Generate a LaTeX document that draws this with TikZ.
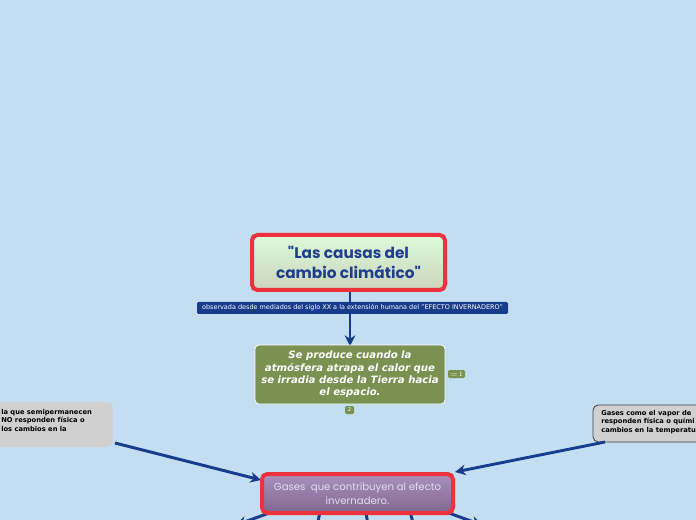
\documentclass[tikz,border=0pt]{standalone}
\usepackage{fontspec}
\setmainfont{DejaVu Sans}
\newfontfamily\sketchfont{Poppins}
\usetikzlibrary{arrows.meta,positioning,calc}
\definecolor{bgblue}{RGB}{195,222,240}
\definecolor{linkblue}{RGB}{24,60,140}
\definecolor{boxred}{RGB}{236,50,60}
\definecolor{titleblue}{RGB}{32,62,140}
\definecolor{olivebox}{RGB}{122,145,82}
\definecolor{notegrey}{RGB}{208,208,208}
\definecolor{purpletop}{RGB}{170,145,190}
\definecolor{purplebot}{RGB}{128,104,145}
\definecolor{purpletext}{RGB}{226,222,244}

\begin{document}
\begin{tikzpicture}[
    x=0.75pt, y=-0.75pt,
    mainbox/.style={rectangle, draw=boxred, line width=3pt, rounded corners=4pt, align=center, inner sep=0pt},
    topic/.style={rectangle, draw=white, line width=0.6pt, rounded corners=3pt, fill=olivebox, align=center,
        text=white, font=\bfseries\itshape\fontsize{7.6}{9.2}\selectfont, inner sep=0pt},
    note/.style={rectangle, rounded corners=4pt, fill=notegrey, align=left, text=black,
        font=\bfseries\fontsize{5.05}{6.4}\selectfont, inner sep=0pt},
    badge/.style={rectangle, rounded corners=1pt, fill=olivebox, text=white, font=\fontsize{4}{4}\selectfont, inner sep=0pt},
    link/.style={draw=linkblue, line width=2.2pt, -{Stealth[length=8pt, width=8pt]}}
]
    \clip (0,0) rectangle (696,520);
    \fill[bgblue] (0,0) rectangle (696,520);

    % connectors first, boxes on top
    \coordinate (titlebot) at (350,292);
    \coordinate (topictop) at (350,346);
    \draw[link] (titlebot) -- (topictop);

    \node[mainbox, top color=green!12!white!95!olivebox, bottom color=olivebox!38!white,
        minimum width=144.75pt, minimum height=41.25pt,
        text=titleblue, font=\sketchfont\bfseries\fontsize{11.5}{15}\selectfont] (title) at (348.5,262.5)
        {"Las causas del\\cambio climático"};

    \node[rectangle, fill=linkblue, rounded corners=1pt, minimum width=233.25pt, minimum height=9pt, inner sep=0pt,
        text=white, font=\fontsize{4.85}{5}\selectfont] (extension) at (352.5,308)
        {observada desde mediados del siglo XX a la extensión humana del "EFECTO INVERNADERO"};

    \node[topic, minimum width=142.5pt, minimum height=44.25pt] (produce) at (350,374.5)
        {Se produce cuando la\\atmósfera atrapa el calor que\\se irradia desde la Tierra hacia\\el espacio.};
    \node[badge, minimum width=12.75pt, minimum height=6pt] (list) at (456.5,374) {$:\!=\!1$};
    \node[badge, minimum width=6.75pt, minimum height=6pt] (count) at (349.5,410) {2};

    \node[note, minimum width=92pt, minimum height=33.75pt] (leftnote) at (51.5,424.5) {};
    \node[note, anchor=north west] (lefttext) at (1,409)
        {la que semipermanecen\\ NO responden física o\\los cambios en la};

    \node[note, draw=black!75, line width=0.6pt, minimum width=96pt, minimum height=27.75pt] (rightnote) at (657,423.5) {};
    \node[note, anchor=north west] (righttext) at (601,410)
        {Gases como el vapor de\\responden física o quími\\cambios en la temperatu};

    \coordinate (leftout) at (115,443);
    \coordinate (rightout) at (605,442);
    \coordinate (gasesleft) at (261,480);
    \coordinate (gasesright) at (455,472);
    \draw[link] (leftout) -- (gasesleft);
    \draw[link] (rightout) -- (gasesright);

    % children below the page edge
    \coordinate (child1) at (236,525);
    \coordinate (child2) at (314,540);
    \coordinate (child3) at (370,540);
    \coordinate (child4) at (418,540);
    \coordinate (child5) at (482,525);
    \draw[link] (272,512) -- (child1);
    \draw[link] (320,512) -- (child2);
    \draw[link] (366,512) -- (child3);
    \draw[link] (410,512) -- (child4);
    \draw[link] (446,512) -- (child5);

    \node[mainbox, top color=purpletop, bottom color=purplebot,
        minimum width=143.25pt, minimum height=29.25pt,
        text=purpletext, font=\sketchfont\fontsize{7.6}{10.5}\selectfont] (gases) at (357.5,493.5)
        {Gases \ que contribuyen al efecto\\invernadero.};
\end{tikzpicture}
\end{document}
